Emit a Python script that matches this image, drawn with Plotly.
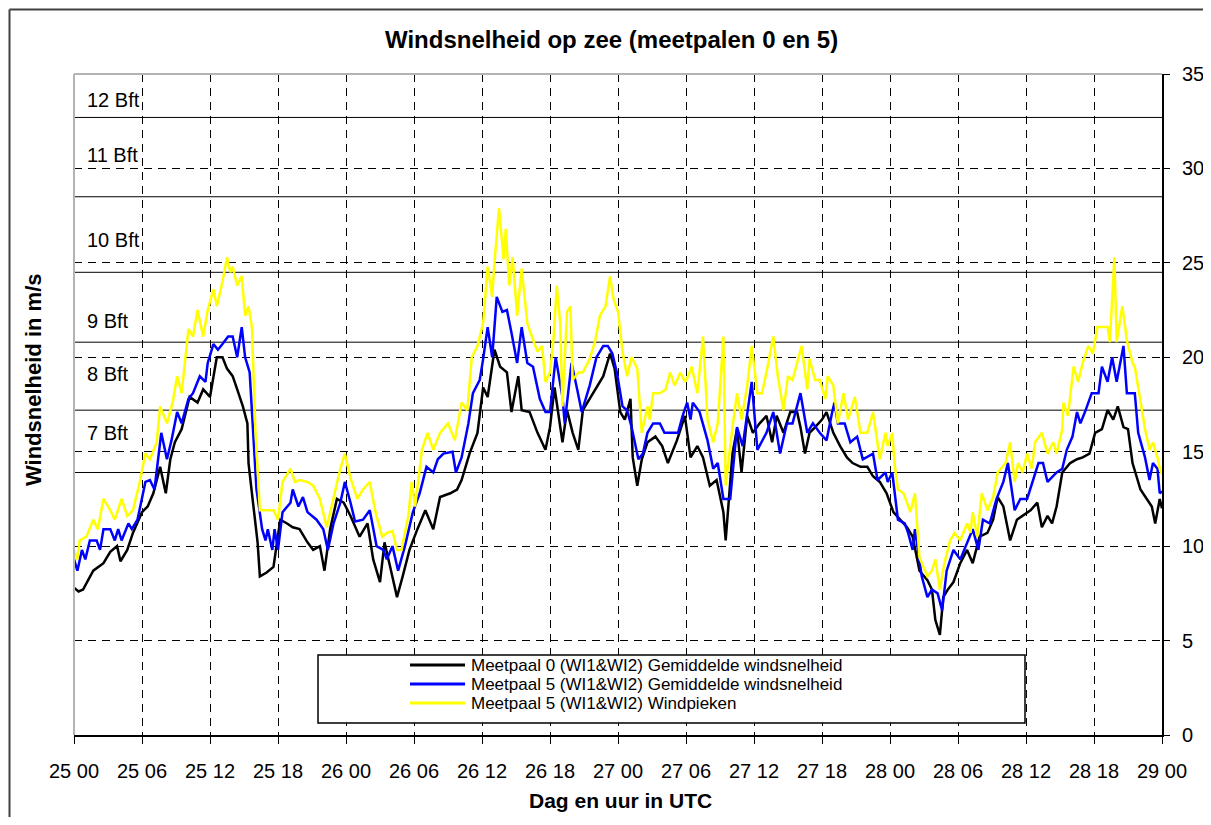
import plotly.graph_objects as go

# ---------------- data (hours since 25 00 UTC, m/s) ----------------
black_h = [0.0,0.4,0.8,1.7,2.6,3.2,3.8,4.1,4.7,5.2,6.0,6.5,7.0,7.6,8.1,8.5,8.9,9.5,10.2,10.9,11.4,12.0,12.6,13.1,13.5,14.0,14.4,14.9,15.3,15.4,15.7,16.0,16.2,16.4,17.0,17.6,18.2,18.8,19.3,19.9,20.6,21.1,21.7,22.1,22.6,23.2,23.8,24.4,25.2,25.9,26.4,27.0,27.4,27.9,28.5,29.0,29.6,30.3,31.0,31.7,32.3,33.2,33.8,34.2,34.9,35.6,36.1,36.5,37.1,37.6,38.2,38.6,39.2,39.5,40.2,40.9,41.6,42.0,42.4,43.1,43.5,44.0,44.5,44.9,45.5,46.1,46.7,47.3,47.7,48.2,48.6,49.1,49.3,49.7,50.1,50.6,51.3,51.9,52.4,53.2,53.9,54.4,55.0,55.5,56.1,56.7,57.3,57.5,58.1,58.5,58.9,59.4,59.9,60.5,61.1,61.6,62.0,62.6,63.2,63.8,64.1,64.5,64.9,65.4,66.0,66.4,67.0,67.6,68.2,68.7,69.4,70.0,70.5,71.1,71.7,72.3,72.9,73.5,74.0,74.6,75.3,75.7,76.0,76.4,76.7,77.1,77.6,78.2,78.8,79.3,79.9,80.6,81.1,81.5,82.0,82.6,83.2,83.7,84.4,85.0,85.4,85.9,86.3,86.7,87.2,87.9,88.5,89.0,89.6,90.1,90.7,91.2,91.7,92.1,92.6,93.0,93.4,94.1,94.7,95.1,95.4,95.8,96.0]
black_v = [7.8,7.6,7.7,8.7,9.1,9.7,10.0,9.2,9.8,10.7,11.8,12.1,12.8,14.2,12.8,14.6,15.5,16.2,17.9,17.6,18.3,17.9,20.0,20.0,19.4,19.0,18.3,17.4,16.5,14.4,12.8,11.2,10.2,8.4,8.6,8.9,11.4,11.2,11.0,10.9,10.2,9.8,10.0,8.7,10.9,12.5,12.3,11.6,10.5,11.2,9.3,8.1,10.2,8.9,7.3,8.4,9.8,10.9,11.9,10.9,12.6,12.8,13.0,13.5,14.9,16.0,18.4,17.9,20.4,19.5,19.2,17.1,19.0,17.2,17.1,16.0,15.1,16.3,18.4,15.5,17.2,16.0,15.1,17.2,17.8,18.4,19.0,20.2,19.4,17.1,16.7,17.8,14.7,13.2,14.6,15.5,15.8,15.3,14.4,15.6,16.9,14.7,15.3,14.7,13.2,13.5,11.8,10.3,14.9,16.2,13.9,16.9,16.0,16.5,16.9,15.5,16.9,16.0,17.1,17.1,16.3,14.9,16.0,16.3,16.7,17.1,16.0,15.3,14.7,14.4,14.2,14.2,13.7,13.4,12.8,11.8,11.4,11.0,10.5,8.7,8.2,7.7,6.1,5.3,7.3,7.7,8.1,9.1,9.8,9.1,10.5,10.7,11.4,12.6,12.1,10.3,11.4,11.6,11.9,12.3,11.0,11.6,11.2,12.1,13.9,14.4,14.6,14.7,14.9,16.0,16.2,17.2,16.7,17.4,16.3,16.2,14.4,13.0,12.5,12.1,11.2,12.5,12.0]

blue_h = [0.0,0.3,0.7,1.0,1.4,2.0,2.3,2.6,3.2,3.6,3.9,4.2,4.8,5.1,5.6,6.3,6.7,7.1,7.7,8.2,8.6,9.1,9.5,10.1,10.5,11.1,11.6,11.8,12.3,12.7,13.1,13.6,14.0,14.4,14.8,15.1,15.5,15.8,16.1,16.6,16.9,17.1,17.5,17.7,18.0,18.4,19.1,19.3,19.8,20.2,20.6,21.4,22.0,22.4,22.9,23.5,23.9,24.4,24.8,25.5,26.1,26.7,27.3,27.6,28.1,28.6,29.2,29.9,30.5,31.1,31.7,32.1,32.6,33.4,33.7,34.2,34.8,35.2,35.8,36.1,36.5,36.9,37.3,37.8,38.2,38.6,39.1,39.5,40.0,40.5,41.1,41.6,42.0,42.5,43.1,43.3,43.9,44.4,44.8,45.3,45.5,46.1,46.7,47.1,47.5,47.9,48.4,48.8,49.2,49.8,50.2,50.6,51.1,51.7,52.1,52.7,53.3,53.7,54.1,54.4,54.6,55.2,55.9,56.4,56.8,57.3,57.9,58.5,59.0,59.8,60.3,61.1,61.7,62.3,62.9,63.4,64.1,64.7,65.2,65.8,66.4,66.9,67.1,67.4,68.0,68.5,69.1,69.6,70.5,70.9,71.6,71.8,72.2,72.7,73.3,73.6,74.0,74.2,74.8,75.3,75.7,76.2,76.6,77.0,77.6,78.2,78.8,79.3,79.8,80.2,80.8,81.4,82.0,82.4,83.0,83.5,84.1,84.6,85.1,85.5,85.9,86.7,87.2,87.6,88.1,88.5,88.8,89.2,89.8,90.4,90.7,91.2,91.6,92.0,92.6,92.9,93.6,93.9,94.5,94.9,95.2,95.6,95.8,96.0]
blue_v = [9.3,8.7,9.8,9.3,10.3,10.3,9.8,10.9,10.9,10.3,10.9,10.3,11.2,10.9,11.4,13.4,13.5,13.0,16.0,14.6,15.6,17.1,16.5,17.8,18.1,19.0,18.7,19.7,20.7,20.4,20.7,21.1,21.1,20.0,21.6,20.0,19.2,16.2,13.0,10.9,10.3,10.9,9.8,10.9,9.8,11.8,12.3,13.0,12.1,12.6,11.8,11.4,10.9,9.8,11.2,12.3,13.4,12.3,11.3,11.4,11.9,10.0,9.8,9.3,10.0,8.7,10.0,11.8,12.8,14.2,13.9,14.6,14.9,15.0,13.9,14.7,16.5,18.1,18.8,19.9,21.6,20.0,23.2,22.4,22.5,21.3,19.7,21.6,19.7,19.5,17.8,17.1,17.1,20.0,17.9,16.5,19.7,18.3,17.1,18.1,18.5,20.0,20.6,20.6,20.2,19.2,17.4,17.2,16.3,14.6,14.9,16.0,16.5,16.5,16.0,16.0,16.0,16.9,17.6,16.7,17.6,17.1,15.6,14.1,14.4,12.5,12.5,16.3,15.3,18.7,15.1,16.0,17.1,14.9,16.5,16.5,18.1,16.0,16.5,16.0,15.6,17.1,17.6,16.5,16.5,15.5,15.8,14.6,14.9,13.5,13.9,13.4,13.9,11.4,11.2,10.7,9.8,10.9,8.4,7.3,7.7,7.5,6.6,8.7,9.8,9.3,10.2,10.9,9.8,11.4,11.2,12.5,13.4,14.4,11.9,12.5,12.5,13.4,14.4,14.4,13.4,13.9,14.1,15.1,15.8,17.1,16.5,17.1,18.1,18.1,19.5,18.7,20.0,18.7,20.6,18.1,18.1,16.0,14.7,13.5,14.4,14.1,12.8,12.9]

yellow_h = [0.0,0.3,0.5,1.1,1.7,2.1,2.6,3.2,3.6,4.2,4.7,5.2,5.8,6.3,6.7,7.3,7.6,8.2,8.7,9.1,9.5,10.1,10.5,10.9,11.4,11.8,12.3,12.6,13.1,13.5,13.8,14.0,14.4,14.8,15.1,15.4,15.7,16.0,16.4,17.0,17.6,18.0,18.4,19.1,19.5,19.9,20.6,21.1,21.7,22.3,22.9,23.5,23.9,24.4,25.0,25.5,26.1,26.6,27.2,27.6,28.1,28.5,28.9,29.5,29.8,30.1,30.7,31.2,31.7,32.3,33.0,33.6,34.2,34.7,35.1,35.6,36.1,36.5,36.9,37.1,37.5,37.9,38.1,38.4,38.7,39.1,39.5,40.0,40.4,40.9,41.3,41.6,42.0,42.3,42.6,42.9,43.1,43.5,43.8,44.0,44.5,44.9,45.5,46.0,46.4,46.9,47.3,47.6,48.0,48.4,48.8,49.2,49.7,50.1,50.6,50.8,51.1,51.7,52.2,52.6,53.0,53.5,53.9,54.2,54.5,55.0,55.5,55.9,56.4,56.8,57.3,57.5,58.1,58.5,58.9,59.4,59.8,60.3,60.7,61.1,61.7,62.1,62.6,63.0,63.4,64.2,64.7,64.9,65.4,65.8,66.3,66.5,67.0,67.4,67.9,68.3,68.9,69.4,70.0,70.5,71.1,71.6,71.8,72.2,72.4,72.7,73.2,73.8,74.2,74.6,75.3,75.7,76.0,76.4,76.8,77.3,77.7,78.2,78.8,79.1,79.3,79.7,80.1,80.6,81.1,81.5,82.2,82.6,83.0,83.3,83.7,84.1,84.5,84.8,85.4,85.9,86.4,86.7,87.2,87.3,87.7,88.2,88.6,89.0,89.5,89.9,90.3,91.2,91.4,91.8,92.0,92.5,92.9,93.4,93.6,94.1,94.5,94.9,95.2,95.6,95.8,96.0]
yellow_v = [9.8,9.3,10.3,10.5,11.4,10.9,12.5,11.9,11.4,12.5,11.6,11.9,13.4,14.9,14.6,15.5,17.4,16.5,17.6,19.0,18.1,21.5,21.1,22.5,21.1,22.5,23.6,22.7,24.0,25.3,24.5,24.8,23.8,24.3,22.2,22.7,21.6,16.2,11.9,11.9,11.9,11.4,13.4,14.1,13.4,13.5,13.4,13.2,12.5,11.0,12.6,14.1,14.9,13.6,12.5,13.0,13.4,11.8,10.5,10.7,10.8,9.8,9.8,11.6,13.4,12.1,15.1,16.0,15.1,16.0,16.5,15.6,17.6,17.2,20.0,20.6,21.8,24.8,23.2,25.0,27.9,25.2,26.8,23.8,25.3,22.2,24.7,21.8,21.1,20.3,20.6,18.7,19.2,20.9,23.8,21.8,17.4,22.4,22.7,18.8,19.2,19.2,19.9,20.9,22.2,22.7,24.3,23.1,22.4,20.3,19.0,20.0,19.4,16.0,17.4,16.7,18.1,18.1,18.3,19.2,18.5,19.2,18.7,19.0,19.5,18.1,21.1,16.7,15.5,16.5,21.1,13.2,16.3,18.1,16.7,18.5,20.6,18.1,18.1,19.2,21.1,19.0,17.2,19.0,18.8,20.6,18.3,19.9,18.8,18.8,17.8,19.0,18.5,16.5,18.1,16.7,17.9,16.0,16.0,17.1,14.6,16.0,15.3,16.0,14.4,13.0,12.8,11.8,12.8,9.4,8.4,8.7,9.3,7.7,9.1,10.3,10.7,10.3,11.2,10.7,11.8,10.5,12.8,11.9,12.6,13.9,14.4,15.5,13.4,14.4,13.9,14.9,14.1,15.5,16.0,14.9,15.5,14.9,16.2,17.6,16.9,19.5,18.7,19.7,20.6,20.2,21.6,21.6,20.8,25.3,20.8,22.7,20.9,19.7,19.5,17.6,16.2,15.1,15.5,14.7,14.1,13.8]

series_names = ["Meetpaal 0 (WI1&WI2) Gemiddelde windsnelheid",
                "Meetpaal 5 (WI1&WI2) Gemiddelde windsnelheid",
                "Meetpaal 5 (WI1&WI2) Windpieken"]
series_colors = ["#000000", "#0000FF", "#FFFF00"]

tick_hours = [0, 6, 12, 18, 24, 30, 36, 42, 48, 54, 60, 66, 72, 78, 84, 90, 96]
tick_labels = ["25 00", "25 06", "25 12", "25 18", "26 00", "26 06", "26 12", "26 18",
               "27 00", "27 06", "27 12", "27 18", "28 00", "28 06", "28 12", "28 18", "29 00"]

bft_limits = [13.9, 17.2, 20.8, 24.5, 28.5, 32.7]
bft_labels = ["7 Bft", "8 Bft", "9 Bft", "10 Bft", "11 Bft", "12 Bft"]
bft_label_pos = [16.0, 19.1, 21.9, 26.2, 30.7, 33.6]

assert len(black_h) == len(black_v), (len(black_h), len(black_v))
assert len(blue_h) == len(blue_v), (len(blue_h), len(blue_v))
assert len(yellow_h) == len(yellow_v), (len(yellow_h), len(yellow_v))

FONT = "Liberation Sans, Arial, sans-serif"

fig = go.Figure()
for xs, ys, name, col in zip([black_h, blue_h, yellow_h], [black_v, blue_v, yellow_v],
                             series_names, series_colors):
    fig.add_trace(go.Scatter(x=xs, y=ys, mode="lines", name=name,
                             line=dict(color=col, width=2.5), showlegend=False))

# Target plot-area position in page pixels; the page body adds an 8px margin,
# so the figure is made smaller than the window to avoid scrollbars.
OFF = 8
L, R, T, B = 74, 1162, 74, 735
W, H = 1195, 809
def px(x):
    return (x - L) / (R - L)
def py(y):
    return (B - y) / (B - T)

shapes = []
for v in bft_limits:
    shapes.append(dict(type="line", xref="x", yref="y", x0=0, x1=96, y0=v, y1=v,
                       line=dict(color="black", width=1), layer="below"))
shapes.append(dict(type="line", xref="paper", yref="paper", x0=0, x1=0, y0=0, y1=1,
                   line=dict(color="#B4B4B4", width=2), layer="above"))
shapes.append(dict(type="line", xref="paper", yref="paper", x0=0, x1=1, y0=1, y1=1,
                   line=dict(color="#B4B4B4", width=2), layer="above"))
# outer chart frame: only its left and top edges are inside the window
frame_left, frame_top = OFF + 1.5, OFF + 1.5
shapes.append(dict(type="line", xref="paper", yref="paper", x0=px(frame_left),
                   x1=px(frame_left), y0=py(frame_top), y1=py(OFF + H + 5),
                   line=dict(color="#404040", width=2), layer="above"))
shapes.append(dict(type="line", xref="paper", yref="paper", x0=px(frame_left),
                   x1=px(OFF + W + 5), y0=py(frame_top), y1=py(frame_top),
                   line=dict(color="#404040", width=2), layer="above"))
# legend box
shapes.append(dict(type="rect", xref="paper", yref="paper", x0=px(318), x1=px(1025),
                   y0=py(723), y1=py(655), fillcolor="white",
                   line=dict(color="black", width=1.5), layer="above"))
row_y = [665, 684, 703]
for ry, col in zip(row_y, series_colors):
    shapes.append(dict(type="line", xref="paper", yref="paper", x0=px(410), x1=px(465),
                       y0=py(ry), y1=py(ry), line=dict(color=col, width=3), layer="above"))

annotations = []
for lab, pos in zip(bft_labels, bft_label_pos):
    annotations.append(dict(text=lab, xref="paper", yref="y", x=px(85), y=pos,
                            xanchor="left", yanchor="middle", showarrow=False,
                            font=dict(size=20, family=FONT, color="black")))
for ry, name in zip(row_y, series_names):
    annotations.append(dict(text=name, xref="paper", yref="paper", x=px(469), y=py(ry),
                            xanchor="left", yanchor="middle", showarrow=False,
                            font=dict(size=17, family=FONT, color="black")))
annotations.append(dict(text="<b>Windsnelheid op zee (meetpalen 0 en 5)</b>", xref="paper",
                        yref="paper", x=px(611), y=py(40), xanchor="center", yanchor="middle",
                        showarrow=False, font=dict(size=24, family=FONT, color="black")))
annotations.append(dict(text="<b>Windsnelheid in m/s</b>", xref="paper", yref="paper",
                        x=px(33), y=py(380), xanchor="center", yanchor="middle", textangle=-90,
                        showarrow=False, font=dict(size=22, family=FONT, color="black")))
annotations.append(dict(text="<b>Dag en uur in UTC</b>", xref="paper", yref="paper",
                        x=px(620), y=py(800), xanchor="center", yanchor="middle",
                        showarrow=False, font=dict(size=21, family=FONT, color="black")))

fig.update_layout(
    width=W, height=H, autosize=False,
    margin=dict(l=L - OFF, r=W - (R - OFF), t=T - OFF, b=H - (B - OFF), pad=0,
                autoexpand=False),
    plot_bgcolor="white", paper_bgcolor="white",
    showlegend=False,
    font=dict(family=FONT, size=20, color="black"),
    shapes=shapes, annotations=annotations,
    xaxis=dict(range=[0, 96], tickmode="array", tickvals=tick_hours, ticktext=tick_labels,
               ticks="outside", ticklen=7, tickcolor="black", tickwidth=1,
               showgrid=True, gridcolor="black", gridwidth=1, griddash="8px,6px",
               showline=True, linecolor="black", linewidth=2, zeroline=False,
               tickfont=dict(size=20, family=FONT, color="black"), ticklabelstandoff=10,
               automargin=False, fixedrange=True),
    yaxis=dict(range=[0, 35], side="right", tickmode="linear", tick0=0, dtick=5,
               ticks="outside", ticklen=6, tickcolor="black", tickwidth=1,
               showgrid=True, gridcolor="black", gridwidth=1, griddash="8px,6px",
               showline=True, linecolor="black", linewidth=2, zeroline=False,
               tickfont=dict(size=20, family=FONT, color="black"), ticklabelstandoff=8,
               automargin=False, fixedrange=True),
)

fig.write_html("out.html")
